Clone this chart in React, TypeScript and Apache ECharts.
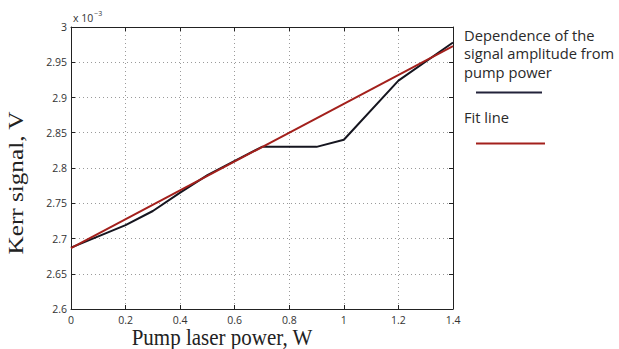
import React, { useEffect, useRef } from "react";
import * as echarts from "echarts";

// Pump laser power (W)
const power = [0, 0.2, 0.3, 0.4, 0.5, 0.6, 0.7, 0.9, 1.0, 1.2, 1.4];
// Measured Kerr signal amplitude (V, ×10⁻³)
const kerrSignal = [2.687, 2.719, 2.739, 2.765, 2.79, 2.81, 2.83, 2.83, 2.84, 2.924, 2.978];
// Linear fit endpoints
const fitPower = [0, 1.4];
const fitSignal = [2.6865, 2.973];

const yTicks = { min: 2.6, max: 3, interval: 0.05 };
const xTicks = { min: 0, max: 1.4, interval: 0.2 };

const legendTitle = ["Dependence of the", "signal amplitude from", "pump power"];
const fitTitle = "Fit line";

const BLACK = "#15151f";
const RED = "#a3201c";

export default function App() {
  const ref = useRef<HTMLDivElement>(null);

  useEffect(() => {
    if (!ref.current) return;
    const chart = echarts.init(ref.current, undefined, { renderer: "svg" });
    const labelFont = { fontFamily: "Open Sans", fontSize: 10.5, color: "#333" };
    const splitLine = {
      show: true,
      lineStyle: { color: "#9a9a9a", type: [1, 3] as any, width: 1 },
    };
    const frameAxis = {
      axisLine: { show: true, onZero: false, lineStyle: { color: "#222", width: 1 } },
      axisTick: { show: true, inside: true, length: 4, lineStyle: { color: "#222" } },
    };
    chart.setOption({
      animation: false,
      backgroundColor: "#fff",
      grid: { left: 71, right: 166, top: 27, bottom: 40, containLabel: false },
      xAxis: [
        {
          type: "value",
          min: xTicks.min,
          max: xTicks.max,
          interval: xTicks.interval,
          ...frameAxis,
          axisLabel: {
            ...labelFont,
            margin: 5,
            formatter: (v: number) => String(parseFloat(v.toFixed(1))),
          },
          splitLine,
        },
        {
          type: "value",
          position: "top",
          min: xTicks.min,
          max: xTicks.max,
          interval: xTicks.interval,
          ...frameAxis,
          axisLabel: { show: false },
          splitLine: { show: false },
        },
      ],
      yAxis: [
        {
          type: "value",
          min: yTicks.min,
          max: yTicks.max,
          interval: yTicks.interval,
          ...frameAxis,
          axisLabel: {
            ...labelFont,
            margin: 4,
            formatter: (v: number) => String(parseFloat(v.toFixed(2))),
          },
          splitLine,
        },
        {
          type: "value",
          position: "right",
          min: yTicks.min,
          max: yTicks.max,
          interval: yTicks.interval,
          ...frameAxis,
          axisLabel: { show: false },
          splitLine: { show: false },
        },
      ],
      series: [
        {
          type: "line",
          name: "signal",
          data: power.map((p, i) => [p, kerrSignal[i]]),
          showSymbol: false,
          lineStyle: { color: BLACK, width: 2 },
          z: 2,
        },
        {
          type: "line",
          name: "fit",
          data: fitPower.map((p, i) => [p, fitSignal[i]]),
          showSymbol: false,
          lineStyle: { color: RED, width: 2 },
          z: 3,
        },
      ],
      graphic: [
        {
          type: "text",
          left: 73,
          top: 10,
          style: {
            text: "{b|x 10}{s|−3}",
            rich: {
              b: { fontFamily: "Open Sans", fontSize: 10.5, fill: "#333", verticalAlign: "bottom" },
              s: { fontFamily: "Open Sans", fontSize: 7, fill: "#333", verticalAlign: "top", padding: [0, 0, 6, 1] },
            },
          },
        },
        {
          type: "text",
          x: 16,
          y: 183,
          rotation: Math.PI / 2,
          scaleX: 1.26,
          style: {
            text: "Kerr signal, V",
            font: "20px 'Liberation Serif'",
            fill: "#222",
            align: "center",
            verticalAlign: "middle",
          },
        },
        {
          type: "text",
          x: 222,
          y: 337,
          scaleY: 1.12,
          style: {
            text: "Pump laser power, W",
            font: "21px 'Liberation Serif'",
            fill: "#222",
            align: "center",
            verticalAlign: "middle",
          },
        },
        ...legendTitle.map((t, i) => ({
          type: "text",
          x: 464,
          y: 34.5 + i * 18.8,
          style: {
            text: t,
            font: "14.7px 'Open Sans'",
            fill: "#2a2a2a",
            verticalAlign: "middle",
          },
        })),
        {
          type: "line",
          shape: { x1: 476, y1: 92.5, x2: 542, y2: 92.5 },
          style: { stroke: "#22223a", lineWidth: 2 },
        },
        {
          type: "text",
          x: 464,
          y: 117,
          style: { text: fitTitle, font: "14.7px 'Open Sans'", fill: "#2a2a2a", verticalAlign: "middle" },
        },
        {
          type: "line",
          shape: { x1: 476, y1: 143.5, x2: 545, y2: 143.5 },
          style: { stroke: RED, lineWidth: 2 },
        },
      ],
    });
    return () => chart.dispose();
  }, []);

  return (
    <div
      ref={ref}
      style={{ position: "fixed", left: 0, top: 0, width: 619, height: 349, background: "#fff" }}
    />
  );
}
